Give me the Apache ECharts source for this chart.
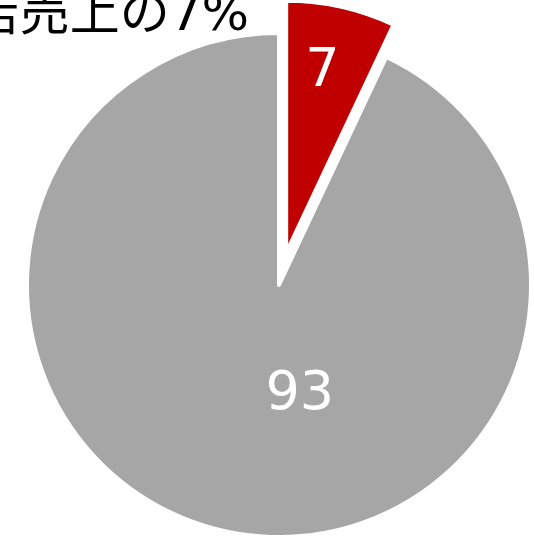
<!DOCTYPE html>
<html>
<head>
<meta charset="utf-8">
<script src="https://cdn.jsdelivr.net/npm/echarts@6/dist/echarts.min.js"></script>
<style>
  html, body { margin: 0; padding: 0; background: #ffffff; }
  #chart { width: 534px; height: 536px; }
</style>
</head>
<body>
<div id="chart"></div>
<script>
// Share of sales: highlighted segment vs. the rest
const titleText = '全店売上の7%';
const sliceNames = ['対象', 'その他'];
const sliceValues = [7, 93];
const sliceColors = ['#c00000', '#a6a6a6'];
// nudges for the value labels inside each slice
const labelNudges = [[8, -55], [49, -16]];

const chart = echarts.init(document.getElementById('chart'), null, { renderer: 'canvas' });

chart.setOption({
  animation: false,
  backgroundColor: '#ffffff',
  graphic: [{
    type: 'text',
    right: 285,
    top: -8,
    style: {
      text: titleText,
      font: '50px "DejaVu Sans", "Noto Sans CJK JP", sans-serif',
      fill: '#000000'
    }
  }],
  series: [{
    type: 'pie',
    center: [279, 285],
    radius: [0, 252],
    startAngle: 90,
    clockwise: true,
    selectedMode: 'single',
    selectedOffset: 33,
    silent: true,
    itemStyle: { borderColor: '#ffffff', borderWidth: 4 },
    label: {
      show: true,
      position: 'inside',
      formatter: '{c}',
      color: '#ffffff',
      fontSize: 54,
      fontFamily: '"DejaVu Sans", sans-serif'
    },
    labelLine: { show: false },
    emphasis: { disabled: true },
    data: sliceValues.map((v, i) => ({
      name: sliceNames[i],
      value: v,
      selected: i === 0,
      itemStyle: { color: sliceColors[i] },
      label: { offset: labelNudges[i] },
      select: {
        itemStyle: { color: sliceColors[i] },
        label: { offset: labelNudges[i], color: '#ffffff' }
      }
    }))
  }]
});
</script>
</body>
</html>
